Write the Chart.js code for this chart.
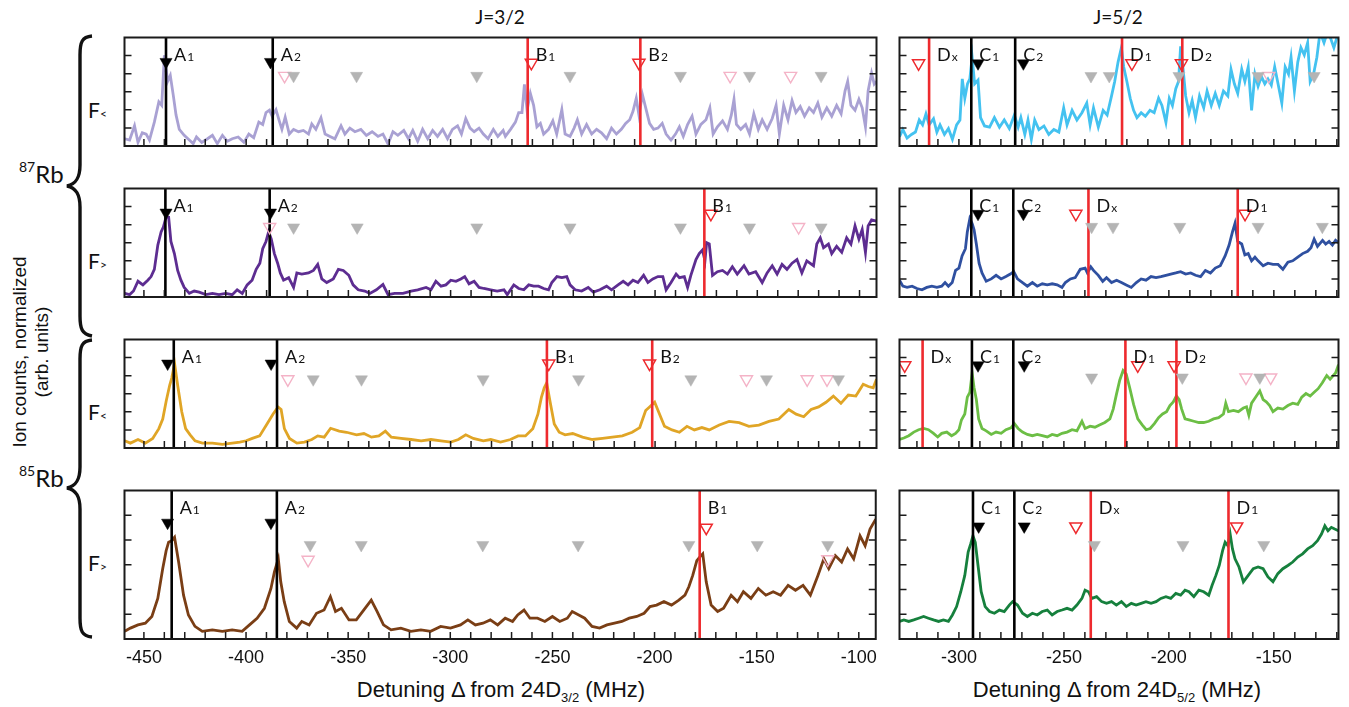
<!DOCTYPE html>
<html>
<head>
<meta charset="utf-8">
<script src="https://cdn.jsdelivr.net/npm/chart.js@4.4.1/dist/chart.umd.min.js"></script>
<style>
body { margin: 0; background: #fff; width: 1349px; height: 707px; overflow: hidden; position: relative; font-family: "Liberation Sans", Arial, sans-serif; color: #111; }
canvas { position: absolute; }
.t { position: absolute; white-space: nowrap; }
.ttl { font: 19px Lato, sans-serif; transform: translate(-50%, -50%); }
.axt { font: 22px "Liberation Sans", Arial, sans-serif; transform: translate(-50%, -50%); }
.axt sub { font-size: 13px; vertical-align: -5px; }
.iso { font: 24px Lato, sans-serif; line-height: 24px; }
.iso span { font-size: 14px; position: relative; top: -11px; }
.fl { font: 21px Lato, sans-serif; line-height: 22px; }
.fl span { font-size: 12px; }
</style>
</head>
<body>
<svg width="120" height="707" style="position:absolute;left:0;top:0">
  <path d="M 92 36 C 82 37, 80 42, 80 55 L 80 165 C 80 178, 76 184, 67 186 C 76 188, 80 194, 80 207 L 80 316 C 80 329, 82 334, 92 336" fill="none" stroke="#111" stroke-width="3.4"/>
  <path d="M 92 340 C 82 341, 80 346, 80 359 L 80 467 C 80 480, 76 486, 67 488 C 76 490, 80 496, 80 509 L 80 618 C 80 631, 82 636, 92 637" fill="none" stroke="#111" stroke-width="3.4"/>
</svg>
<div class="t ttl" style="left:500px;top:16px">J=3/2</div>
<div class="t ttl" style="left:1118px;top:16px">J=5/2</div>
<div class="t iso" style="left:19px;top:162px"><span>87</span>Rb</div>
<div class="t iso" style="left:19px;top:466px"><span>85</span>Rb</div>
<div class="t fl" style="left:88px;top:99px">F<span>&lt;</span></div>
<div class="t fl" style="left:88px;top:250px">F<span>&gt;</span></div>
<div class="t fl" style="left:88px;top:401px">F<span>&lt;</span></div>
<div class="t fl" style="left:88px;top:552px">F<span>&gt;</span></div>
<div class="t" style="left:31px;top:352px;transform:translate(-50%,-50%) rotate(-90deg);text-align:center;font-size:19px;line-height:22px">Ion counts, normalized<br>(arb. units)</div>
<div class="t axt" style="left:501px;top:691px">Detuning &Delta; from 24D<sub>3/2</sub> (MHz)</div>
<div class="t axt" style="left:1117px;top:691px">Detuning &Delta; from 24D<sub>5/2</sub> (MHz)</div>
<script>
// x ranges of the two columns (MHz)
const xRangeJ32 = [-459.5, -91.7];
const xRangeJ52 = [-328.3, -119.2];

// ---- J=3/2, 87Rb F<
const j32_87lo = [[-459.4,0.40],[-457.0,0.33],[-454.6,1.12],[-452.9,0.20],[-450.8,0.73],[-448.9,0.66],[-447.3,0.33],[-444.9,1.32],[-442.7,2.44],[-441.3,2.25],[-440.0,5.02],[-438.4,3.57],[-437.1,3.90],[-435.6,2.77],[-434.3,1.72],[-432.7,0.92],[-430.3,0.59],[-427.8,0.33],[-425.9,0.13],[-424.3,0.50],[-421.7,0.20],[-418.9,0.40],[-416.5,0.59],[-414.1,0.13],[-411.6,0.59],[-409.2,0.26],[-406.8,0.40],[-403.9,0.50],[-401.1,0.20],[-398.7,0.66],[-396.3,0.46],[-393.8,1.32],[-391.9,1.19],[-390.3,1.85],[-388.6,1.98],[-387.3,1.65],[-385.4,2.01],[-383.8,1.39],[-382.5,0.92],[-380.9,1.59],[-378.9,0.66],[-376.8,0.92],[-374.4,0.79],[-372.0,0.86],[-369.5,0.66],[-367.9,1.22],[-365.9,0.92],[-363.4,1.56],[-361.4,0.66],[-359.0,0.53],[-356.6,0.40],[-353.6,1.12],[-351.7,0.66],[-349.3,0.99],[-346.8,0.79],[-343.9,0.92],[-341.2,0.59],[-338.4,0.79],[-335.5,0.53],[-333.1,0.66],[-330.6,0.11],[-328.2,0.79],[-325.8,0.59],[-322.9,0.86],[-320.6,0.40],[-318.5,0.86],[-316.1,0.26],[-313.7,0.92],[-311.2,0.40],[-308.8,0.86],[-306.4,0.53],[-303.9,0.92],[-301.5,0.40],[-299.1,0.92],[-296.6,1.12],[-294.7,0.66],[-292.6,1.52],[-290.5,0.99],[-288.5,0.79],[-286.1,0.99],[-284.0,0.66],[-281.7,0.40],[-279.1,0.92],[-276.9,0.53],[-274.3,0.86],[-273.2,0.53],[-270.7,0.92],[-268.3,1.32],[-266.7,1.85],[-265.1,1.85],[-263.9,3.41],[-262.6,1.98],[-261.0,2.91],[-259.4,2.25],[-257.8,1.06],[-256.1,1.25],[-254.5,0.66],[-252.1,0.92],[-250.0,1.39],[-248.1,0.66],[-245.6,2.01],[-244.0,0.66],[-241.6,0.53],[-239.6,0.99],[-238.0,1.45],[-235.9,0.66],[-233.5,1.19],[-231.0,0.66],[-228.6,0.92],[-226.2,0.73],[-223.7,0.40],[-221.3,0.99],[-218.9,0.66],[-216.5,0.92],[-214.4,1.25],[-212.4,1.45],[-210.8,1.92],[-209.2,2.64],[-207.9,1.72],[-206.2,2.84],[-204.3,1.98],[-202.7,1.25],[-200.7,0.92],[-198.6,0.99],[-196.5,1.25],[-194.6,0.66],[-192.2,0.33],[-190.0,0.66],[-188.1,1.06],[-186.2,0.53],[-184.1,1.19],[-181.9,1.65],[-180.0,0.66],[-177.6,1.19],[-175.1,1.45],[-173.2,2.11],[-171.6,0.66],[-169.5,1.06],[-167.0,1.39],[-164.6,0.92],[-162.7,1.72],[-161.4,2.58],[-160.2,1.19],[-158.1,0.92],[-155.7,1.19],[-153.8,0.66],[-151.7,1.78],[-149.5,0.92],[-147.6,1.45],[-145.2,0.92],[-142.7,1.52],[-140.8,2.25],[-139.2,0.66],[-137.1,2.25],[-135.0,1.45],[-133.0,2.51],[-131.1,1.85],[-129.0,2.18],[-126.9,1.65],[-124.6,2.11],[-122.5,1.85],[-120.4,2.38],[-118.4,1.59],[-116.0,2.11],[-113.6,1.65],[-111.2,2.25],[-109.0,1.78],[-107.1,3.04],[-105.8,3.57],[-104.2,2.25],[-102.2,1.98],[-100.3,2.58],[-98.7,2.11],[-97.1,1.06],[-95.8,3.04],[-94.1,4.03],[-92.8,3.43],[-91.7,3.57]];
const j32_87loLines = [['A','1',-439.2,'k'],['A','2',-387.0,'k'],['B','1',-262.3,'r'],['B','2',-207.2,'r']];
const j32_87loBlack = [[-439.2,4.65],[-388.1,4.65]];
const j32_87loRed = [[-260.5,4.6],[-207.9,4.6]];
const j32_87loGray = [[-376.8,3.88],[-346.0,3.88],[-287.2,3.88],[-241.6,3.88],[-187.6,3.88],[-153.8,3.88],[-118.8,3.88]];
const j32_87loPink = [[-381.2,3.88],[-163.3,3.88],[-133.7,3.88]];

// ---- J=3/2, 87Rb F>
const j32_87hi = [[-459.4,0.20],[-457.0,0.13],[-455.1,0.33],[-452.9,0.87],[-450.5,0.67],[-448.1,0.93],[-446.5,1.13],[-444.9,1.53],[-443.2,2.87],[-441.6,3.60],[-440.5,3.87],[-439.2,4.40],[-437.9,4.40],[-436.8,3.07],[-435.1,2.40],[-433.5,1.47],[-431.9,0.93],[-430.3,0.53],[-427.8,0.20],[-425.4,0.33],[-423.0,0.27],[-419.7,0.13],[-416.5,0.20],[-413.3,0.13],[-410.0,0.20],[-406.8,0.13],[-404.4,0.40],[-401.9,0.20],[-399.5,0.67],[-397.1,0.93],[-395.1,1.53],[-393.3,1.87],[-391.9,2.67],[-390.3,3.07],[-389.0,3.60],[-387.7,3.20],[-386.2,2.40],[-384.6,1.87],[-383.3,1.33],[-381.7,0.93],[-379.2,1.07],[-376.8,0.53],[-375.2,1.33],[-372.8,1.27],[-369.5,1.33],[-367.1,1.47],[-365.0,1.80],[-363.0,1.00],[-360.6,0.80],[-357.4,1.00],[-354.9,1.53],[-352.5,1.47],[-349.8,1.20],[-347.7,0.67],[-345.2,0.40],[-342.0,0.33],[-339.5,0.20],[-336.3,0.40],[-333.1,0.69],[-330.6,0.13],[-327.4,0.20],[-323.3,0.20],[-319.3,0.33],[-316.1,0.40],[-312.0,0.53],[-309.6,0.40],[-307.2,0.87],[-304.7,0.60],[-302.3,0.67],[-299.9,0.93],[-297.4,0.87],[-295.0,1.00],[-293.1,1.13],[-291.0,0.73],[-288.5,0.87],[-286.1,0.53],[-283.7,0.47],[-280.4,0.40],[-277.2,0.33],[-273.9,0.40],[-272.3,0.13],[-269.1,0.67],[-266.7,0.47],[-264.2,0.40],[-261.8,0.67],[-259.4,0.60],[-257.0,0.60],[-254.5,0.47],[-252.1,0.40],[-250.5,0.80],[-248.0,1.13],[-245.6,1.07],[-243.2,1.13],[-241.6,0.67],[-239.1,0.40],[-235.9,0.33],[-232.7,0.53],[-230.2,0.27],[-227.0,0.40],[-223.7,0.60],[-221.3,0.40],[-218.1,0.67],[-215.6,0.87],[-213.2,0.67],[-210.8,0.93],[-208.4,0.80],[-205.6,1.20],[-203.5,0.80],[-201.1,1.00],[-198.6,1.13],[-196.2,1.13],[-194.6,0.40],[-192.2,0.80],[-189.7,1.27],[-188.1,1.07],[-185.7,1.13],[-184.1,0.53],[-182.5,1.20],[-180.0,2.07],[-178.4,2.40],[-176.8,2.60],[-175.6,2.00],[-174.8,3.00],[-173.5,2.93],[-171.9,1.20],[-169.5,1.40],[-167.0,1.47],[-164.6,1.27],[-162.2,1.67],[-159.8,1.27],[-156.5,1.73],[-154.1,1.27],[-150.8,1.40],[-147.6,0.80],[-145.2,1.33],[-142.7,1.73],[-140.3,1.27],[-137.9,1.80],[-135.5,1.53],[-133.0,1.87],[-130.6,2.07],[-128.2,1.33],[-125.8,2.00],[-122.5,1.73],[-120.9,2.93],[-119.2,3.27],[-117.6,2.73],[-115.2,2.93],[-113.6,2.40],[-111.2,2.80],[-108.7,2.47],[-106.3,3.27],[-104.2,2.93],[-102.2,3.93],[-100.3,3.20],[-98.7,3.73],[-97.1,2.47],[-95.8,3.93],[-94.1,4.27],[-91.7,4.20]];
const j32_87hiLines = [['A','1',-439.5,'k'],['A','2',-388.5,'k'],['B','1',-175.9,'r']];
const j32_87hiBlack = [[-439.2,4.67],[-388.1,4.67]];
const j32_87hiRed = [[-172.7,4.6]];
const j32_87hiGray = [[-376.8,3.85],[-345.7,3.85],[-287.2,3.85],[-241.6,3.85],[-187.6,3.85],[-153.8,3.85],[-118.8,3.85]];
const j32_87hiPink = [[-388.5,3.87],[-129.8,3.87]];

// ---- J=3/2, 85Rb F<
const j32_85lo = [[-459.4,0.40],[-456.6,0.27],[-452.9,0.47],[-449.3,0.27],[-445.7,0.53],[-442.7,1.07],[-440.8,1.60],[-439.1,2.60],[-437.4,3.47],[-436.4,3.87],[-435.0,4.67],[-433.5,3.47],[-431.5,2.00],[-429.6,1.07],[-427.4,0.73],[-425.0,0.40],[-421.4,0.27],[-416.5,0.27],[-411.6,0.20],[-406.8,0.27],[-403.1,0.33],[-400.0,0.40],[-397.0,0.53],[-393.4,0.67],[-389.8,1.33],[-386.9,1.87],[-384.4,2.27],[-382.9,2.13],[-381.3,1.07],[-378.8,0.53],[-375.2,0.27],[-371.5,0.33],[-367.9,0.47],[-365.0,0.67],[-361.8,0.60],[-358.7,1.09],[-354.5,0.93],[-350.9,0.87],[-346.0,0.73],[-342.4,0.80],[-338.7,0.60],[-335.1,0.67],[-331.9,0.93],[-329.0,0.60],[-324.2,0.53],[-319.3,0.47],[-314.4,0.40],[-309.6,0.47],[-304.7,0.40],[-299.9,0.33],[-296.2,0.47],[-292.6,0.73],[-288.9,0.53],[-284.0,0.40],[-280.4,0.47],[-275.6,0.33],[-270.7,0.47],[-267.0,0.67],[-263.4,0.67],[-259.8,1.07],[-257.3,1.87],[-255.6,2.80],[-254.2,3.33],[-253.0,3.60],[-251.3,2.53],[-249.3,1.33],[-246.9,0.87],[-244.0,0.73],[-240.3,0.80],[-235.5,0.60],[-230.6,0.47],[-225.7,0.53],[-220.9,0.60],[-216.0,0.67],[-211.2,0.87],[-207.5,1.13],[-204.6,2.07],[-202.7,2.27],[-200.2,2.53],[-197.8,1.87],[-195.4,1.20],[-191.7,1.00],[-188.1,0.87],[-184.4,1.20],[-180.8,1.00],[-177.1,1.13],[-173.5,1.00],[-168.6,1.27],[-163.8,1.47],[-158.9,1.40],[-154.1,1.20],[-149.2,1.27],[-144.3,1.47],[-139.5,1.60],[-134.6,2.13],[-131.0,1.87],[-127.3,1.73],[-123.7,2.13],[-120.0,2.27],[-116.4,2.53],[-112.8,2.87],[-109.1,2.47],[-105.5,2.93],[-101.8,2.87],[-98.2,3.53],[-95.7,3.40],[-93.3,3.33],[-91.7,3.80]];
const j32_85loLines = [['A','1',-435.4,'k'],['A','2',-384.9,'k'],['B','1',-252.9,'r'],['B','2',-201.4,'r']];
const j32_85loBlack = [[-438.4,4.67],[-387.8,4.67]];
const j32_85loRed = [[-252.0,4.67],[-202.7,4.67]];
const j32_85loGray = [[-367.2,3.8],[-343.6,3.8],[-284.1,3.8],[-237.4,3.8],[-182.5,3.8],[-145.5,3.8],[-110.3,3.8]];
const j32_85loPink = [[-379.6,3.8],[-155.3,3.8],[-125.6,3.8],[-115.9,3.8]];

// ---- J=3/2, 85Rb F>
const j32_85hi = [[-459.4,0.31],[-456.6,0.44],[-452.9,0.57],[-449.3,0.64],[-446.1,0.91],[-443.2,1.64],[-440.8,2.84],[-439.1,3.57],[-437.9,3.91],[-436.4,3.97],[-435.0,4.11],[-433.0,3.11],[-430.6,1.77],[-428.2,0.97],[-425.0,0.51],[-421.4,0.31],[-416.5,0.37],[-411.6,0.31],[-406.8,0.37],[-401.9,0.31],[-398.3,0.57],[-394.6,0.84],[-391.0,1.24],[-387.8,2.04],[-386.1,2.71],[-384.2,3.24],[-383.0,2.31],[-381.3,1.51],[-378.8,0.71],[-375.2,0.44],[-372.7,0.71],[-369.1,0.57],[-365.5,1.04],[-361.8,1.17],[-358.7,1.71],[-356.2,1.11],[-353.3,1.24],[-349.6,0.77],[-346.0,0.77],[-342.4,1.17],[-338.7,1.57],[-335.8,1.11],[-332.7,0.57],[-329.0,0.37],[-324.2,0.44],[-319.3,0.31],[-314.4,0.37],[-309.6,0.31],[-304.7,0.51],[-299.9,0.44],[-295.0,0.57],[-291.4,0.77],[-287.7,0.57],[-284.0,0.64],[-280.4,0.77],[-276.8,0.57],[-273.1,0.84],[-269.5,0.71],[-267.0,0.97],[-263.9,1.17],[-261.0,0.84],[-257.3,0.84],[-253.7,0.71],[-250.0,0.91],[-246.4,0.71],[-242.7,0.84],[-240.3,1.11],[-237.1,0.97],[-234.2,0.84],[-230.6,0.51],[-226.9,0.44],[-223.3,0.57],[-219.6,0.64],[-216.0,0.71],[-212.4,0.84],[-208.7,0.91],[-205.1,1.04],[-202.2,1.31],[-199.0,1.37],[-195.4,1.51],[-191.7,1.37],[-188.1,1.57],[-185.1,1.77],[-183.2,2.11],[-181.3,2.57],[-179.3,3.17],[-177.9,3.31],[-176.4,3.44],[-174.7,2.31],[-172.3,1.37],[-169.1,1.11],[-166.2,1.24],[-162.5,1.77],[-159.4,1.51],[-156.5,1.91],[-152.8,1.64],[-149.2,2.04],[-145.5,1.77],[-141.9,1.91],[-138.3,1.77],[-134.6,2.17],[-131.0,1.97],[-127.3,2.17],[-123.7,1.77],[-120.0,2.57],[-117.1,3.24],[-114.7,2.84],[-111.5,3.37],[-108.4,3.11],[-105.5,3.64],[-102.5,3.24],[-99.4,4.17],[-96.9,3.77],[-94.5,4.44],[-91.7,4.84]];
const j32_85hiLines = [['A','1',-436.4,'k'],['A','2',-384.9,'k'],['B','1',-177.9,'r']];
const j32_85hiBlack = [[-438.4,4.7],[-387.8,4.7]];
const j32_85hiRed = [[-174.7,4.5]];
const j32_85hiGray = [[-368.6,3.8],[-343.6,3.8],[-284.1,3.8],[-237.4,3.8],[-183.2,3.8],[-149.7,3.8],[-115.2,3.8]];
const j32_85hiPink = [[-369.6,3.2],[-115.2,3.22]];

// ---- J=5/2, 87Rb F<
const j52_87lo = [[-328.3,0.51],[-326.7,0.91],[-324.7,0.44],[-322.6,0.64],[-320.7,0.77],[-318.9,1.44],[-317.3,1.17],[-315.7,1.77],[-314.2,1.17],[-312.1,1.51],[-310.5,0.77],[-309.0,1.17],[-306.9,0.64],[-305.0,0.97],[-303.1,0.37],[-301.1,1.17],[-299.5,1.44],[-298.4,3.71],[-297.2,2.64],[-295.9,3.44],[-294.8,3.71],[-293.7,4.91],[-292.5,3.44],[-290.9,3.64],[-289.7,1.57],[-287.8,1.11],[-285.4,1.04],[-283.1,1.57],[-280.7,1.04],[-278.4,1.44],[-276.0,0.97],[-273.6,1.71],[-271.8,1.04],[-270.5,1.57],[-268.6,0.64],[-267.1,1.44],[-265.5,0.37],[-263.9,1.44],[-261.9,0.91],[-259.5,1.11],[-257.2,0.64],[-254.8,0.91],[-252.4,0.77],[-250.1,2.11],[-248.5,1.17],[-246.1,1.97],[-243.8,1.44],[-241.4,1.84],[-239.1,2.37],[-237.5,1.17],[-235.9,2.11],[-233.6,1.04],[-231.3,1.97],[-229.4,1.71],[-227.3,2.77],[-225.8,3.57],[-224.2,4.64],[-222.6,5.44],[-221.5,4.37],[-220.0,3.57],[-218.4,2.64],[-216.8,1.97],[-215.2,1.57],[-213.2,1.84],[-211.2,1.64],[-209.0,1.97],[-207.0,1.84],[-204.9,2.64],[-203.3,2.24],[-201.4,1.31],[-199.8,2.64],[-198.3,2.24],[-196.7,3.17],[-195.4,3.57],[-194.4,5.51],[-193.2,4.24],[-192.0,2.77],[-190.4,1.84],[-188.9,2.51],[-187.3,1.57],[-185.4,2.77],[-183.4,2.11],[-181.8,3.04],[-179.8,2.24],[-177.9,2.91],[-176.0,2.24],[-174.0,3.04],[-171.9,2.77],[-170.4,4.24],[-168.8,3.44],[-167.2,2.91],[-165.3,4.24],[-163.8,3.57],[-162.2,4.37],[-160.6,1.97],[-159.0,3.97],[-157.5,3.31],[-155.9,3.84],[-154.3,3.44],[-152.8,3.71],[-151.2,3.37],[-149.6,4.37],[-148.0,3.44],[-146.2,2.37],[-144.6,4.37],[-143.0,3.97],[-141.8,4.91],[-140.2,3.04],[-138.6,4.64],[-137.1,5.44],[-135.5,5.04],[-133.9,5.71],[-132.7,3.57],[-131.1,3.97],[-129.5,4.91],[-128.0,6.3],[-126.1,5.71],[-124.5,6.3],[-123.0,5.97],[-121.4,5.44],[-119.2,6.3]];
const j52_87loLines = [['D','x',-314.2,'r'],['C','1',-294.1,'k'],['C','2',-273.2,'k'],['D','1',-222.3,'r'],['D','2',-193.6,'r']];
const j52_87loBlack = [[-290.9,4.57],[-269.3,4.57]];
const j52_87loRed = [[-319.2,4.57],[-217.6,4.57],[-194.0,4.57]];
const j52_87loGray = [[-237.1,3.87],[-228.4,3.87],[-195.2,3.87],[-157.5,3.87],[-130.8,3.87]];
const j52_87loPink = [[-152.4,3.87]];

// ---- J=5/2, 87Rb F>
const j52_87hi = [[-328.3,0.93],[-326.7,0.60],[-324.7,0.53],[-322.3,0.60],[-320.0,0.47],[-317.6,0.40],[-315.3,0.53],[-312.9,0.60],[-310.5,0.53],[-308.2,0.60],[-306.6,0.80],[-305.0,0.60],[-303.2,0.80],[-301.6,1.47],[-300.0,1.60],[-298.5,2.27],[-296.9,2.67],[-296.0,3.60],[-294.8,4.33],[-293.7,4.07],[-292.8,3.73],[-291.7,2.93],[-290.4,1.87],[-289.0,1.33],[-287.0,0.87],[-284.6,1.00],[-282.3,1.20],[-279.9,1.00],[-277.6,1.13],[-275.5,1.27],[-273.9,1.40],[-272.1,1.00],[-269.7,0.80],[-267.4,0.60],[-265.0,0.80],[-262.7,0.60],[-260.3,0.73],[-257.9,0.67],[-255.6,0.73],[-253.2,0.67],[-250.9,0.53],[-249.3,0.80],[-246.9,1.00],[-244.6,1.07],[-242.2,1.53],[-239.9,1.60],[-238.8,1.33],[-237.2,1.67],[-235.9,1.47],[-233.6,1.20],[-231.5,0.87],[-229.7,1.07],[-227.3,0.80],[-224.9,0.93],[-222.6,0.80],[-220.3,0.67],[-217.9,0.53],[-215.5,0.80],[-213.2,1.00],[-210.9,0.93],[-208.5,1.13],[-206.1,1.07],[-203.8,1.13],[-201.4,1.20],[-199.1,1.27],[-196.7,1.33],[-194.4,1.40],[-192.0,1.27],[-189.6,1.33],[-187.3,1.20],[-184.9,1.13],[-182.6,1.47],[-180.2,1.33],[-177.9,1.60],[-175.5,1.73],[-173.2,2.27],[-171.3,2.87],[-169.7,3.60],[-168.5,4.07],[-167.2,3.07],[-165.3,2.93],[-163.8,2.33],[-162.2,2.40],[-160.6,2.00],[-159.0,2.20],[-157.5,2.00],[-155.1,1.73],[-152.8,1.87],[-150.4,1.80],[-148.0,1.80],[-145.7,1.53],[-143.3,1.93],[-141.0,2.00],[-138.6,2.20],[-136.3,2.40],[-133.9,2.53],[-132.3,2.73],[-130.8,3.20],[-129.2,2.80],[-126.8,3.13],[-125.3,2.93],[-123.7,3.07],[-122.1,2.87],[-120.6,3.13],[-119.2,3.00]];
const j52_87hiLines = [['C','1',-294.1,'k'],['C','2',-274.1,'k'],['D','x',-238.3,'r'],['D','1',-167.2,'r']];
const j52_87hiBlack = [[-290.9,4.6],[-269.3,4.6]];
const j52_87hiRed = [[-244.3,4.6],[-163.7,4.6]];
const j52_87hiGray = [[-236.8,3.88],[-226.6,3.88],[-194.8,3.88],[-157.5,3.88],[-126.9,3.88]];
const j52_87hiPink = [];

// ---- J=5/2, 85Rb F<
const j52_85lo = [[-328.3,0.48],[-326.2,0.55],[-323.9,0.68],[-321.5,0.88],[-319.2,1.01],[-316.8,1.08],[-314.5,1.01],[-312.1,0.81],[-310.1,0.61],[-308.2,0.81],[-305.8,0.88],[-303.5,0.68],[-301.6,0.81],[-300.0,1.01],[-298.8,1.55],[-297.2,1.88],[-296.0,2.81],[-294.8,3.08],[-293.7,4.15],[-292.8,3.35],[-291.7,2.68],[-290.6,1.61],[-289.0,1.08],[-287.0,0.95],[-284.6,0.75],[-282.3,0.88],[-279.9,0.81],[-277.6,1.01],[-275.2,1.11],[-273.6,1.35],[-271.8,1.08],[-269.7,0.88],[-267.4,0.75],[-265.0,0.68],[-262.7,0.75],[-260.3,0.68],[-257.9,0.61],[-255.6,0.75],[-253.2,0.68],[-250.9,0.81],[-248.5,0.88],[-246.1,1.01],[-243.8,0.95],[-241.4,1.48],[-239.9,1.08],[-237.5,1.21],[-235.2,1.15],[-232.8,1.28],[-230.5,1.41],[-228.1,1.61],[-226.5,2.15],[-225.0,2.95],[-223.4,3.75],[-221.8,4.28],[-220.3,4.08],[-218.7,3.35],[-216.8,2.41],[-214.8,1.61],[-212.7,1.28],[-210.8,1.01],[-208.9,1.08],[-206.9,1.35],[-204.9,1.68],[-203.0,1.88],[-201.1,2.01],[-199.5,2.35],[-197.9,2.55],[-196.4,2.88],[-195.1,2.68],[-193.9,2.15],[-192.3,1.61],[-190.4,1.55],[-188.1,1.48],[-185.7,1.41],[-183.4,1.41],[-181.0,1.48],[-178.7,1.61],[-176.3,1.68],[-174.0,1.88],[-172.9,2.48],[-171.6,2.01],[-169.2,2.08],[-166.9,2.01],[-164.5,2.21],[-163.0,2.28],[-161.9,1.81],[-160.6,2.48],[-158.7,2.81],[-156.7,3.15],[-155.1,2.68],[-153.6,2.55],[-152.0,2.35],[-150.4,2.01],[-148.1,2.21],[-145.7,2.15],[-143.3,2.35],[-141.0,2.48],[-138.6,2.41],[-136.7,2.81],[-134.7,3.01],[-132.7,2.88],[-130.8,3.08],[-128.9,3.28],[-126.9,3.61],[-124.8,4.01],[-123.2,3.81],[-121.7,4.01],[-120.6,4.15],[-119.2,4.61]];
const j52_85loLines = [['D','x',-317.3,'r'],['C','1',-293.8,'k'],['C','2',-274.1,'k'],['D','1',-220.7,'r'],['D','2',-196.4,'r']];
const j52_85loBlack = [[-290.9,4.57],[-268.9,4.57]];
const j52_85loRed = [[-325.8,4.57],[-214.8,4.57],[-197.5,4.57]];
const j52_85loGray = [[-236.8,3.9],[-193.6,3.9],[-156.7,3.9]];
const j52_85loPink = [[-163.3,3.9],[-151.5,3.9]];

// ---- J=5/2, 85Rb F>
const j52_85hi = [[-328.3,0.71],[-326.2,0.77],[-323.9,0.71],[-321.5,0.77],[-319.2,0.84],[-316.8,0.91],[-314.5,0.84],[-312.1,0.77],[-309.7,0.71],[-307.4,0.77],[-305.0,0.71],[-303.1,0.97],[-301.1,1.31],[-299.1,1.91],[-297.2,2.57],[-295.6,3.51],[-294.4,3.84],[-293.3,4.17],[-292.2,3.91],[-290.9,2.97],[-289.4,1.91],[-287.5,1.31],[-285.4,1.11],[-283.1,1.04],[-280.7,1.17],[-278.4,1.11],[-276.0,1.37],[-274.4,1.51],[-272.1,1.37],[-269.7,1.04],[-267.4,0.91],[-265.0,1.04],[-262.7,0.97],[-260.3,1.11],[-257.9,1.17],[-255.6,0.97],[-253.2,1.11],[-250.9,1.17],[-248.5,1.24],[-246.1,1.17],[-243.8,1.37],[-241.4,1.64],[-239.9,1.97],[-238.3,1.91],[-236.7,1.64],[-234.4,1.71],[-232.0,1.51],[-229.7,1.44],[-227.3,1.51],[-225.0,1.37],[-222.6,1.51],[-220.3,1.31],[-217.9,1.44],[-215.6,1.37],[-213.2,1.44],[-210.9,1.51],[-208.5,1.44],[-206.1,1.51],[-203.8,1.64],[-201.4,1.71],[-199.1,1.64],[-196.7,1.84],[-194.4,1.77],[-192.3,1.97],[-190.4,1.91],[-188.1,1.71],[-185.7,1.97],[-183.4,1.91],[-181.0,1.77],[-179.4,2.17],[-177.6,2.57],[-176.0,2.97],[-174.4,3.57],[-173.2,3.91],[-171.9,3.77],[-170.8,4.24],[-169.7,3.64],[-168.5,3.24],[-166.6,2.91],[-164.5,2.31],[-162.2,2.57],[-159.8,2.84],[-157.5,2.91],[-155.1,2.84],[-152.8,2.51],[-150.4,2.31],[-148.1,2.64],[-145.7,2.84],[-143.3,2.97],[-141.0,3.11],[-138.6,3.31],[-136.3,3.44],[-133.9,3.64],[-131.5,3.77],[-129.2,3.97],[-127.3,4.24],[-125.7,4.57],[-124.2,4.37],[-122.6,4.51],[-121.0,4.44],[-119.2,4.37]];
const j52_85hiLines = [['C','1',-293.3,'k'],['C','2',-273.6,'k'],['D','x',-237.2,'r'],['D','1',-171.6,'r']];
const j52_85hiBlack = [[-290.6,4.55],[-268.9,4.55]];
const j52_85hiRed = [[-244.3,4.55],[-167.7,4.55]];
const j52_85hiGray = [[-235.5,3.8],[-193.3,3.8],[-154.8,3.8]];
const j52_85hiPink = [];

// layout of the 4x2 grid (pixels)
const colLeft = [122, 897], colWidth = [757, 444];
const rowTop = [35, 186, 337, 488], rowH = 151;
const PAD = 6, AXH = 40;

const RED = '#ee2a2e', GRAY = '#b4b4b4', PINK = '#f4b3c7';

const panelDeco = {
    id: 'panelDeco',
    afterDraw(chart, args, opts) {
        const ctx = chart.ctx, a = chart.chartArea;
        const x = chart.scales.x, y = chart.scales.y;
        ctx.save();
        ctx.strokeStyle = '#1b1b1b';
        ctx.lineWidth = 1.5;
        ctx.beginPath();
        for (let v = Math.ceil(x.min / 10) * 10; v <= x.max; v += 10) {
            const px = x.getPixelForValue(v);
            ctx.moveTo(px, a.bottom);
            ctx.lineTo(px, a.bottom - 7);
        }
        for (let v = 1; v < 6; v++) {
            const py = y.getPixelForValue(v);
            ctx.moveTo(a.left, py); ctx.lineTo(a.left + 7, py);
            ctx.moveTo(a.right, py); ctx.lineTo(a.right - 7, py);
        }
        ctx.stroke();
        ctx.lineWidth = 2;
        ctx.strokeRect(a.left, a.top, a.right - a.left, a.bottom - a.top);
        // resonance labels next to the lines
        ctx.fillStyle = '#111';
        ctx.textBaseline = 'alphabetic';
        opts.labels.forEach(function (l) {
            const px = x.getPixelForValue(l[2]) + 8;
            const by = a.top + 23;
            ctx.font = '18px Lato';
            ctx.fillText(l[0], px, by);
            const w = ctx.measureText(l[0]).width;
            ctx.font = '12px Lato';
            ctx.fillText(l[1], px + w + 1, by);
        });
        ctx.restore();
    }
};

function pts(arr) { return arr.map(p => ({ x: p[0], y: p[1] })); }

function triSet(arr, fill, stroke, bw) {
    return {
        data: pts(arr), showLine: false, pointStyle: 'triangle', pointRotation: 180,
        pointRadius: 7, pointBackgroundColor: fill, pointBorderColor: stroke,
        pointBorderWidth: bw, order: 1
    };
}

function makePanel(col, row, trace, color, lines, black, red, gray, pink) {
    const bottom = row === 3;
    const W = colWidth[col] + 2 * PAD;
    const H = rowH + PAD + (bottom ? AXH : PAD);
    const c = document.createElement('canvas');
    c.width = W; c.height = H;
    c.style.left = (colLeft[col] - PAD) + 'px';
    c.style.top = (rowTop[row] - PAD) + 'px';
    c.style.width = W + 'px'; c.style.height = H + 'px';
    document.body.appendChild(c);

    const range = col === 0 ? xRangeJ32 : xRangeJ52;
    const datasets = [];
    datasets.push({ data: pts(trace), showLine: true, borderColor: color, borderWidth: 2.8, pointRadius: 0, order: 3 });
    lines.forEach(function (l) {
        datasets.push({
            data: [{ x: l[2], y: 0 }, { x: l[2], y: 6 }], showLine: true,
            borderColor: l[3] === 'k' ? '#000' : RED, borderWidth: 2.6, pointRadius: 0, order: 2
        });
    });
    datasets.push(triSet(gray, GRAY, GRAY, 0.5));
    datasets.push(triSet(pink, 'rgba(255,255,255,0)', PINK, 1.4));
    datasets.push(triSet(red, 'rgba(255,255,255,0)', RED, 1.5));
    datasets.push(triSet(black, '#000', '#000', 0.5));

    new Chart(c, {
        type: 'scatter',
        data: { datasets: datasets },
        options: {
            responsive: false,
            animation: false,
            devicePixelRatio: 1,
            events: [],
            layout: { padding: { left: PAD, right: PAD, top: PAD, bottom: bottom ? 0 : PAD } },
            plugins: { legend: { display: false }, tooltip: { enabled: false }, panelDeco: { labels: lines } },
            scales: {
                x: {
                    type: 'linear', min: range[0], max: range[1], display: bottom,
                    grid: { display: false, drawTicks: false }, border: { display: false },
                    ticks: { stepSize: 50, includeBounds: false, padding: 8, color: '#111', font: { family: 'Liberation Sans', size: 18 } },
                    afterFit: function (s) { s.height = AXH; }
                },
                y: { min: 0, max: 6, display: false }
            }
        },
        plugins: [panelDeco]
    });
}

makePanel(0, 0, j32_87lo, '#a9a1d3', j32_87loLines, j32_87loBlack, j32_87loRed, j32_87loGray, j32_87loPink);
makePanel(0, 1, j32_87hi, '#5d2d91', j32_87hiLines, j32_87hiBlack, j32_87hiRed, j32_87hiGray, j32_87hiPink);
makePanel(0, 2, j32_85lo, '#e0a526', j32_85loLines, j32_85loBlack, j32_85loRed, j32_85loGray, j32_85loPink);
makePanel(0, 3, j32_85hi, '#7a3e15', j32_85hiLines, j32_85hiBlack, j32_85hiRed, j32_85hiGray, j32_85hiPink);
makePanel(1, 0, j52_87lo, '#44c2f0', j52_87loLines, j52_87loBlack, j52_87loRed, j52_87loGray, j52_87loPink);
makePanel(1, 1, j52_87hi, '#2f50a0', j52_87hiLines, j52_87hiBlack, j52_87hiRed, j52_87hiGray, j52_87hiPink);
makePanel(1, 2, j52_85lo, '#6cbe45', j52_85loLines, j52_85loBlack, j52_85loRed, j52_85loGray, j52_85loPink);
makePanel(1, 3, j52_85hi, '#16803d', j52_85hiLines, j52_85hiBlack, j52_85hiRed, j52_85hiGray, j52_85hiPink);
</script>
</body>
</html>
